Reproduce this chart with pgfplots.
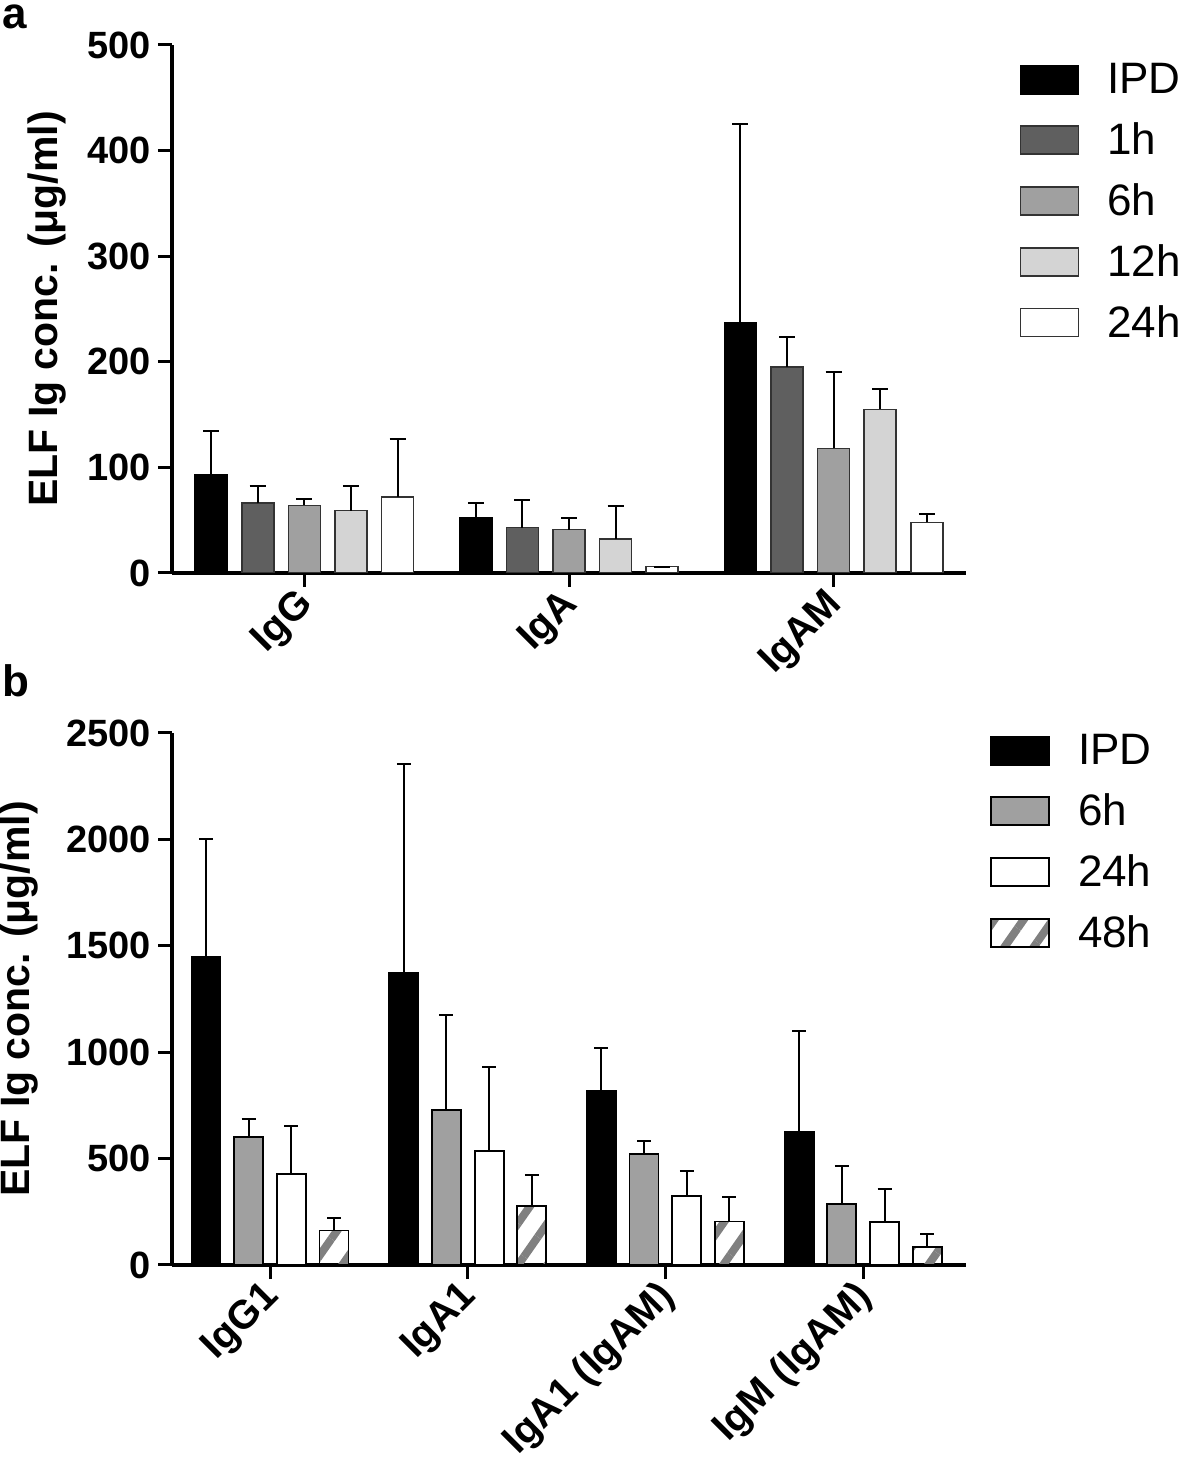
\documentclass[border=0pt]{standalone}
\usepackage{fontspec}
\setmainfont{Liberation Sans}
\usepackage{pgfplots}
\pgfplotsset{compat=1.18}
\usetikzlibrary{patterns.meta}
\definecolor{cOne}{HTML}{5F5F5F}
\definecolor{cSix}{HTML}{A0A0A0}
\definecolor{cTwelve}{HTML}{D4D4D4}
\definecolor{cEdge}{HTML}{333333}
\definecolor{cHatch}{HTML}{808080}
\pgfplotsset{
  base/.style={
    scale only axis, width=397pt, anchor=south west,
    axis x line*=bottom, axis y line*=left,
    axis line style={line width=1.6pt, black},
    tick align=outside, major tick length=7pt,
    tick style={line width=1.5pt, black},
    /pgf/number format/assume math mode=true,
    /pgf/number format/1000 sep={},
    ticklabel style={font=\bfseries\fontsize{19}{20}\selectfont},
    xticklabel style={xshift=3pt, yshift=-4.5pt, rotate=45, anchor=east, inner sep=2pt,
      font=\bfseries\fontsize{20}{21}\selectfont},
    ylabel style={font=\bfseries\fontsize{20.5}{21}\selectfont},
    ybar,
    legend style={draw=none, fill=none, font=\fontsize{22}{24}\selectfont,
      anchor=north west, inner sep=0pt, row sep=13pt, column sep=14pt,
      nodes={inner sep=0pt}},
    legend cell align=left,
    legend image code/.code={\draw[##1] (0pt,-7pt) rectangle (29pt,7pt);},
    error bars/y dir=plus, error bars/y explicit,
    error bars/error bar style={line width=1pt, black},
    error bars/error mark options={rotate=90, line width=1pt, black, mark size=4pt},
  },
}
\begin{document}
\begin{tikzpicture}
\useasboundingbox (0,0) rectangle (590pt,730.5pt);
\node[anchor=base west, inner sep=0pt, font=\bfseries\fontsize{22}{22}\selectfont] at (1pt,716pt) {a};
\node[anchor=base west, inner sep=0pt, font=\bfseries\fontsize{22}{22}\selectfont] at (1pt,382pt) {b};

\begin{axis}[base, at={(86pt,444pt)}, height=264pt,
  xmin=-0.5, xmax=2.5, ymin=0, ymax=500,
  ytick={0,100,...,500}, xtick={0,1,2}, xticklabels={IgG,IgA,IgAM},
  bar width=16pt,
  ylabel={ELF Ig conc. (μg/ml)}, ylabel shift=4pt,
  legend style={at={(axis description cs:1.067,0.966)}}]
\addplot[fill=black, draw=black, line width=0.8pt, bar shift=-46.6pt]
  coordinates {(0,93) +- (0,41) (1,52) +- (0,14) (2,237) +- (0,188)};
\addlegendentry{IPD}
\addplot[fill=cOne, draw=cEdge, line width=0.8pt, bar shift=-23.3pt]
  coordinates {(0,66) +- (0,16) (1,43) +- (0,26) (2,195) +- (0,28)};
\addlegendentry{1h}
\addplot[fill=cSix, draw=cEdge, line width=0.8pt, bar shift=0pt]
  coordinates {(0,64) +- (0,6) (1,41) +- (0,11) (2,118) +- (0,72)};
\addlegendentry{6h}
\addplot[fill=cTwelve, draw=cEdge, line width=0.8pt, bar shift=23.3pt]
  coordinates {(0,59) +- (0,23) (1,32) +- (0,31) (2,155) +- (0,19)};
\addlegendentry{12h}
\addplot[fill=white, draw=cEdge, line width=0.8pt, bar shift=46.6pt]
  coordinates {(0,72) +- (0,55) (1,6) +- (0,0) (2,48) +- (0,8)};
\addlegendentry{24h}
\end{axis}

\begin{axis}[base, at={(86pt,98pt)}, height=266pt,
  xmin=-0.496, xmax=3.52, ymin=0, ymax=2500,
  ytick={0,500,...,2500}, xtick={0,1,2,3},
  xticklabels={IgG1,IgA1,IgA1 (IgAM),IgM (IgAM)},
  bar width=14.5pt,
  error bars/error mark options={rotate=90, line width=1pt, black, mark size=3.5pt},
  ylabel={ELF Ig conc. (μg/ml)}, ylabel shift=7pt,
  legend style={at={(axis description cs:1.030,0.998)}}]
\addplot[fill=black, draw=black, line width=0.9pt, bar shift=-32pt]
  coordinates {(0,1450) +- (0,550) (1,1374) +- (0,981) (2,818) +- (0,201) (3,626) +- (0,472)};
\addlegendentry{IPD}
\addplot[fill=cSix, draw=black, line width=0.9pt, bar shift=-10.7pt]
  coordinates {(0,603) +- (0,84) (1,729) +- (0,444) (2,523) +- (0,61) (3,288) +- (0,179)};
\addlegendentry{6h}
\addplot[fill=white, draw=black, line width=0.9pt, bar shift=10.7pt]
  coordinates {(0,428) +- (0,226) (1,537) +- (0,393) (2,326) +- (0,118) (3,202) +- (0,156)};
\addlegendentry{24h}
\addplot[draw=black, line width=0.9pt, bar shift=32pt,
  pattern={Lines[angle=55, distance=12pt, line width=4pt]}, pattern color=cHatch]
  coordinates {(0,162) +- (0,61) (1,276) +- (0,149) (2,204) +- (0,114) (3,86) +- (0,59)};
\addlegendentry{48h}
\end{axis}
\end{tikzpicture}
\end{document}
